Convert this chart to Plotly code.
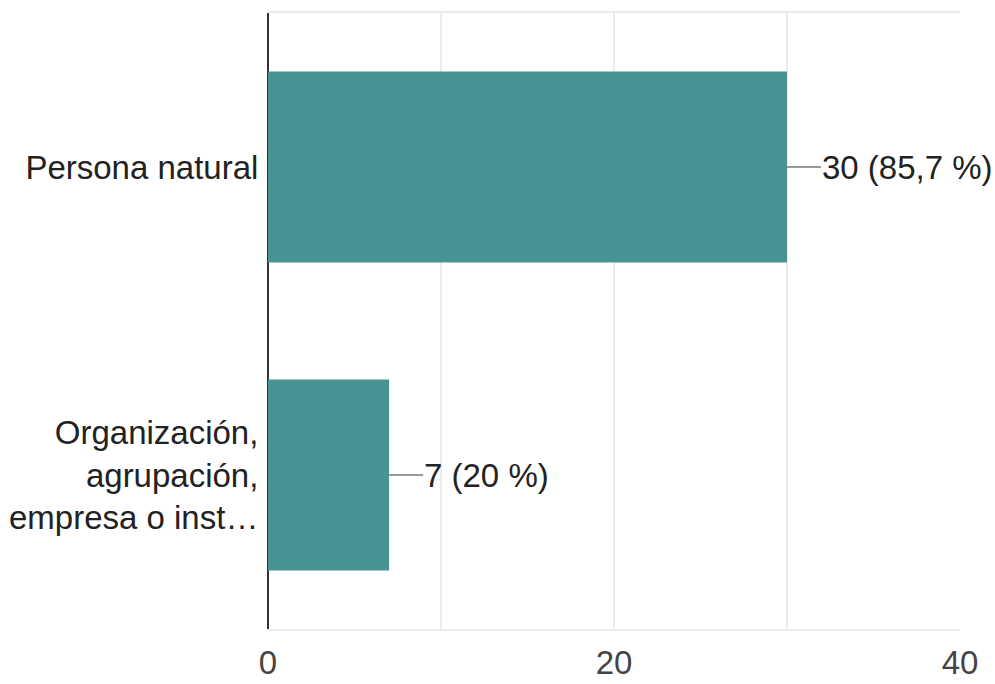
import plotly.graph_objects as go

categories = ["Persona natural", "Organización,<br>agrupación,<br>empresa o inst…"]
counts = [30, 7]
percent_labels = ["85,7 %", "20 %"]
x_tick_values = [0, 20, 40]

bar_color = "#489493"
font_family = "Liberation Sans, Arial, sans-serif"

fig = go.Figure()
fig.add_trace(go.Bar(
    y=categories,
    x=counts,
    orientation="h",
    marker=dict(color=bar_color, line=dict(width=0)),
    width=0.62,
    hoverinfo="skip",
))

for cat, val, pct in zip(categories, counts, percent_labels):
    fig.add_annotation(
        x=val, y=cat, xref="x", yref="y",
        text=f"{val} ({pct})",
        showarrow=True, arrowhead=0, arrowwidth=2, arrowcolor="#999999",
        ax=34, ay=0, xanchor="left", yanchor="middle",
        font=dict(family=font_family, size=33, color="#222222"),
        borderpad=0,
    )

fig.update_layout(
    width=995, height=684,
    margin=dict(l=268, r=35, t=13, b=55, autoexpand=False),
    paper_bgcolor="white", plot_bgcolor="white",
    showlegend=False,
    bargap=0.38,
    font=dict(family=font_family, size=33, color="#222222"),
)

fig.update_xaxes(
    range=[0, 40],
    automargin=False,
    tickvals=x_tick_values,
    ticktext=[str(v) for v in x_tick_values],
    showgrid=True, gridcolor="#ececec", gridwidth=2,
    minor=dict(dtick=10, showgrid=True, gridcolor="#ececec", gridwidth=2),
    zeroline=True, zerolinecolor="#333333", zerolinewidth=2,
    showline=True, mirror=True, linecolor="#ececec", linewidth=2,
    ticks="outside", ticklen=3, tickcolor="rgba(0,0,0,0)",
    tickfont=dict(family=font_family, size=33, color="#444444"),
    fixedrange=True,
)
fig.update_yaxes(
    autorange="reversed",
    automargin=False,
    showgrid=False, zeroline=False, showline=False,
    ticks="outside", ticklen=2, tickcolor="rgba(0,0,0,0)",
    tickfont=dict(family=font_family, size=33, color="#222222"),
    fixedrange=True,
)

fig.write_html(
    "out.html",
    config={"displayModeBar": False, "staticPlot": True},
    post_script="document.body.style.margin='0';",
)
